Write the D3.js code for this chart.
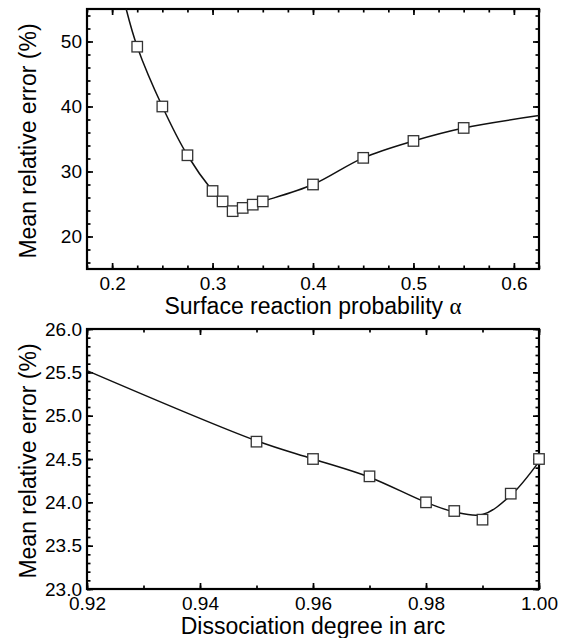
<!DOCTYPE html>
<html>
<head>
<meta charset="utf-8">
<script src="https://cdnjs.cloudflare.com/ajax/libs/d3/7.8.5/d3.min.js"></script>
<style>
  body { margin: 0; background: #fff; }
  text { font-family: Arial, "Liberation Sans", Helvetica, sans-serif; fill: #000; }
</style>
</head>
<body>
<div id="chart"></div>
<script>
var width = 565;
var height = 638;

// top panel: error vs surface reaction probability
var alphaX = [0.225, 0.25, 0.275, 0.3, 0.31, 0.32, 0.33, 0.34, 0.35, 0.4, 0.45, 0.5, 0.55];
var alphaErr = [49.2, 40.0, 32.5, 27.0, 25.4, 23.9, 24.4, 24.9, 25.4, 28.0, 32.1, 34.7, 36.7];
// the fitted curve (it runs past the markers at both ends)
var alphaFitX = [0.214, 0.225, 0.25, 0.275, 0.3, 0.31, 0.32, 0.33, 0.34, 0.35, 0.4, 0.45, 0.5, 0.55, 0.625];
var alphaFitY = [55.0, 49.2, 40.0, 32.5, 27.0, 25.3, 24.2, 24.4, 24.9, 25.4, 28.0, 32.1, 34.7, 36.7, 38.6];
var alphaTicks = [0.2, 0.3, 0.4, 0.5, 0.6];
var alphaErrTicks = [20, 30, 40, 50];

// bottom panel: error vs dissociation degree in arc
var dissX = [0.95, 0.96, 0.97, 0.98, 0.985, 0.99, 0.995, 1.0];
var dissErr = [24.7, 24.5, 24.3, 24.0, 23.9, 23.8, 24.1, 24.5];
var dissFitX = [0.92, 0.95, 0.96, 0.97, 0.98, 0.985, 0.99, 0.995, 1.0];
var dissFitY = [25.52, 24.71, 24.5, 24.29, 24.0, 23.89, 23.86, 24.08, 24.47];
var dissTicks = [0.92, 0.94, 0.96, 0.98, 1.00];
var dissErrTicks = [23.0, 23.5, 24.0, 24.5, 25.0, 25.5, 26.0];

var left = 87;
var right = 539;
var majorLen = 6;
var minorLen = 3.5;
var tickFont = 19;
var titleFont = 23;

var svg = d3.select("#chart")
            .append("svg")
            .attr("width", width)
            .attr("height", height)
            .style("display", "block");

svg.append("rect")
   .attr("width", width)
   .attr("height", height)
   .attr("fill", "#fff");

function styleAxis(sel){
  sel.select(".domain").remove();
  sel.selectAll(".tick line")
     .attr("stroke", "#000")
     .attr("stroke-width", 1.7);
  sel.attr("font-size", tickFont)
     .attr("font-family", "Arial, 'Liberation Sans', Helvetica, sans-serif");
  sel.selectAll(".tick text").attr("fill", "#000");
}

function drawPanel(cfg){
  var g = svg.append("g");

  var x = d3.scaleLinear().domain(cfg.xDomain).range([left, right]);
  var y = d3.scaleLinear().domain(cfg.yDomain).range([cfg.bottom, cfg.top]);

  // minor ticks on all four sides, pointing inward
  g.append("g").attr("transform", "translate(0," + cfg.bottom + ")")
   .call(d3.axisBottom(x).tickValues(cfg.xMinor).tickSize(-minorLen).tickFormat(""))
   .call(styleAxis);
  g.append("g").attr("transform", "translate(0," + cfg.top + ")")
   .call(d3.axisTop(x).tickValues(cfg.xMinor).tickSize(-minorLen).tickFormat(""))
   .call(styleAxis);
  g.append("g").attr("transform", "translate(" + left + ",0)")
   .call(d3.axisLeft(y).tickValues(cfg.yMinor).tickSize(-minorLen).tickFormat(""))
   .call(styleAxis);
  g.append("g").attr("transform", "translate(" + right + ",0)")
   .call(d3.axisRight(y).tickValues(cfg.yMinor).tickSize(-minorLen).tickFormat(""))
   .call(styleAxis);

  // major ticks, labels only bottom and left
  g.append("g").attr("transform", "translate(0," + cfg.bottom + ")")
   .call(d3.axisBottom(x).tickValues(cfg.xTicks).tickSize(-majorLen).tickPadding(8).tickFormat(d3.format(cfg.xFmt)))
   .call(styleAxis);
  g.append("g").attr("transform", "translate(0," + cfg.top + ")")
   .call(d3.axisTop(x).tickValues(cfg.xTicks).tickSize(-majorLen).tickFormat(""))
   .call(styleAxis);
  g.append("g").attr("transform", "translate(" + left + ",0)")
   .call(d3.axisLeft(y).tickValues(cfg.yTicks).tickSize(-majorLen).tickPadding(5).tickFormat(d3.format(cfg.yFmt)))
   .call(styleAxis);
  g.append("g").attr("transform", "translate(" + right + ",0)")
   .call(d3.axisRight(y).tickValues(cfg.yTicks).tickSize(-majorLen).tickFormat(""))
   .call(styleAxis);

  // frame
  g.append("rect")
   .attr("x", left)
   .attr("y", cfg.top)
   .attr("width", right - left)
   .attr("height", cfg.bottom - cfg.top)
   .attr("fill", "none")
   .attr("stroke", "#000")
   .attr("stroke-width", 2.2);

  // fitted curve
  var fit = cfg.fitX.map(function(d, i){ return [d, cfg.fitY[i]]; });
  var line = d3.line()
               .x(function(d){ return x(d[0]); })
               .y(function(d){ return y(d[1]); })
               .curve(d3.curveCatmullRom.alpha(0.5));
  g.append("path")
   .datum(fit)
   .attr("d", line)
   .attr("fill", "none")
   .attr("stroke", "#111")
   .attr("stroke-width", 1.5);

  // open square markers
  var s = 10.5;
  g.append("g")
   .selectAll("rect")
   .data(cfg.px)
   .enter()
   .append("rect")
   .attr("x", function(d){ return x(d) - s / 2; })
   .attr("y", function(d, i){ return y(cfg.py[i]) - s / 2; })
   .attr("width", s)
   .attr("height", s)
   .attr("fill", "#fff")
   .attr("stroke", "#333")
   .attr("stroke-width", 1.3);

  // axis titles
  var xt = g.append("text")
            .attr("x", (left + right) / 2)
            .attr("y", cfg.bottom + 45)
            .attr("text-anchor", "middle")
            .attr("font-size", titleFont)
            .text(cfg.xTitle);
  if (cfg.xSymbol){
    xt.append("tspan")
      .attr("font-family", "'Liberation Serif', 'DejaVu Serif', serif")
      .attr("font-size", 23)
      .text(cfg.xSymbol);
  }

  g.append("text")
   .attr("transform", "translate(36," + ((cfg.top + cfg.bottom) / 2 + 2) + ") rotate(-90)")
   .attr("text-anchor", "middle")
   .attr("font-size", titleFont)
   .text("Mean relative error (%)");
}

drawPanel({
  top: 9, bottom: 269,
  xDomain: [0.175, 0.625], yDomain: [15, 55],
  xTicks: alphaTicks, yTicks: alphaErrTicks,
  xMinor: d3.range(7, 26).map(function(i){ return i * 0.025; }),
  yMinor: d3.range(8, 28).map(function(i){ return i * 2; }),
  xFmt: ".1f", yFmt: "d",
  px: alphaX, py: alphaErr,
  fitX: alphaFitX, fitY: alphaFitY,
  xTitle: "Surface reaction probability ", xSymbol: "\u03b1"
});

drawPanel({
  top: 329, bottom: 589,
  xDomain: [0.92, 1.0], yDomain: [23, 26],
  xTicks: dissTicks, yTicks: dissErrTicks,
  xMinor: d3.range(92, 101).map(function(i){ return i / 100; }),
  yMinor: d3.range(230, 261).map(function(i){ return i / 10; }),
  xFmt: ".2f", yFmt: ".1f",
  px: dissX, py: dissErr,
  fitX: dissFitX, fitY: dissFitY,
  xTitle: "Dissociation degree in arc", xSymbol: null
});
</script>
</body>
</html>
